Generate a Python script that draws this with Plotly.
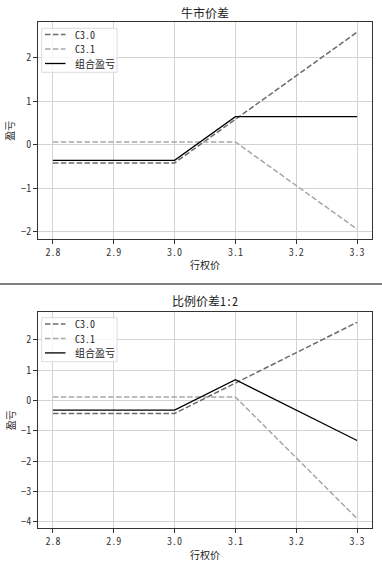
import plotly.graph_objects as go

strikes = [2.8, 2.9, 3.0, 3.1, 3.2, 3.3]

# 牛市价差
bull_c30 = [-0.42, -0.42, -0.42, 0.58, 1.58, 2.58]
bull_c31 = [0.06, 0.06, 0.06, 0.06, -0.94, -1.94]
bull_combo = [-0.36, -0.36, -0.36, 0.64, 0.64, 0.64]

# 比例价差1:2
ratio_c30 = [-0.43, -0.43, -0.43, 0.57, 1.57, 2.57]
ratio_c31 = [0.11, 0.11, 0.11, 0.11, -1.89, -3.89]
ratio_combo = [-0.32, -0.32, -0.32, 0.68, -0.32, -1.32]

series_names = ["C3.0", "C3.1", "组合盈亏"]
titles = ["牛市价差", "比例价差1:2"]
x_ticks = [2.8, 2.9, 3.0, 3.1, 3.2, 3.3]
x_ticktext = ["2.8", "2.9", "3.0", "3.1", "3.2", "3.3"]

W, H = 382, 567
FONT = "Noto Sans Mono CJK SC, Noto Sans CJK SC, sans-serif"
dash = "5.5px,2.4px"
styles = [
    dict(color="#6b6b6b", width=1.5, dash=dash),
    dict(color="#a8a8a8", width=1.5, dash=dash),
    dict(color="#000000", width=1.3),
]

fig = go.Figure()
sets = [(bull_c30, bull_c31, bull_combo), (ratio_c30, ratio_c31, ratio_combo)]
for i, data in enumerate(sets):
    xa = "x" if i == 0 else "x2"
    ya = "y" if i == 0 else "y2"
    for name, ys, st in zip(series_names, data, styles):
        fig.add_trace(go.Scatter(x=strikes, y=ys, mode="lines", name=name,
                                 line=st, xaxis=xa, yaxis=ya, showlegend=False,
                                 hoverinfo="skip"))

def px_x(p):
    return p / W

def px_y(p):
    return 1 - p / H

xdom = [px_x(37.7), px_x(372.3)]
ydoms = [[px_y(239), px_y(22.3)], [px_y(528.3), px_y(312.3)]]
yranges = [[-2.166, 2.806], [-4.21, 2.90]]
yticks = [[-2, -1, 0, 1, 2], [-4, -3, -2, -1, 0, 1, 2]]

axis_common = dict(
    showline=True, linecolor="#333333", linewidth=1, mirror=True,
    showgrid=True, gridcolor="#d3d3d3", gridwidth=1,
    ticks="outside", ticklen=3.5, tickcolor="#333333", tickwidth=1,
    zeroline=False, tickfont=dict(family=FONT, size=10, color="#333333"),
)

for i in range(2):
    sfx = "" if i == 0 else "2"
    fig.update_layout(**{
        f"xaxis{sfx}": dict(domain=xdom, range=[2.775, 3.325], tickvals=x_ticks,
                            ticktext=x_ticktext, anchor=f"y{sfx}", **axis_common),
        f"yaxis{sfx}": dict(domain=ydoms[i], range=yranges[i], tickvals=yticks[i],
                            anchor=f"x{sfx}", **axis_common),
    })

annotations = []
shapes = [dict(type="line", xref="paper", yref="paper", x0=0, x1=1,
               y0=px_y(284), y1=px_y(284), line=dict(color="black", width=1))]
title_y = [12.5, 300]
xlabel_y = [265, 554]
legend_top = [28.3, 317.7]
for i in range(2):
    annotations.append(dict(text=titles[i], x=px_x(205), y=px_y(title_y[i]), xref="paper", yref="paper",
                            showarrow=False, font=dict(family=FONT, size=12, color="#222222"),
                            xanchor="center", yanchor="middle"))
    annotations.append(dict(text="行权价", x=px_x(205), y=px_y(xlabel_y[i]), xref="paper", yref="paper",
                            showarrow=False, font=dict(family=FONT, size=10, color="#222222"),
                            xanchor="center", yanchor="middle"))
    ymid = (ydoms[i][0] + ydoms[i][1]) / 2
    annotations.append(dict(text="盈亏", x=px_x(10), y=ymid, xref="paper", yref="paper",
                            showarrow=False, textangle=-90, font=dict(family=FONT, size=10, color="#222222"),
                            xanchor="center", yanchor="middle"))
    # custom legend box
    top = legend_top[i]
    shapes.append(dict(type="rect", xref="paper", yref="paper",
                       x0=px_x(41.7), x1=px_x(117), y0=px_y(top + 44), y1=px_y(top),
                       line=dict(color="#dddddd", width=1), fillcolor="rgba(255,255,255,0.8)",
                       layer="above"))
    for k, (name, st) in enumerate(zip(series_names, styles)):
        ry = top + 6.2 + k * 14.5
        shapes.append(dict(type="line", xref="paper", yref="paper",
                           x0=px_x(45), x1=px_x(65.5), y0=px_y(ry), y1=px_y(ry),
                           line=st, layer="above"))
        annotations.append(dict(text=name, x=px_x(72.5), y=px_y(ry), xref="paper", yref="paper",
                                showarrow=False, font=dict(family=FONT, size=10, color="#222222"),
                                xanchor="left", yanchor="middle"))

fig.update_layout(
    width=W, height=H,
    margin=dict(l=0, r=0, t=0, b=0),
    paper_bgcolor="white", plot_bgcolor="white",
    annotations=annotations,
    shapes=shapes,
    showlegend=False,
    hovermode=False,
)

fig.write_html("out.html", config={"displayModeBar": False, "staticPlot": True},
               post_script="document.body.style.margin='0';document.body.style.padding='0';")
